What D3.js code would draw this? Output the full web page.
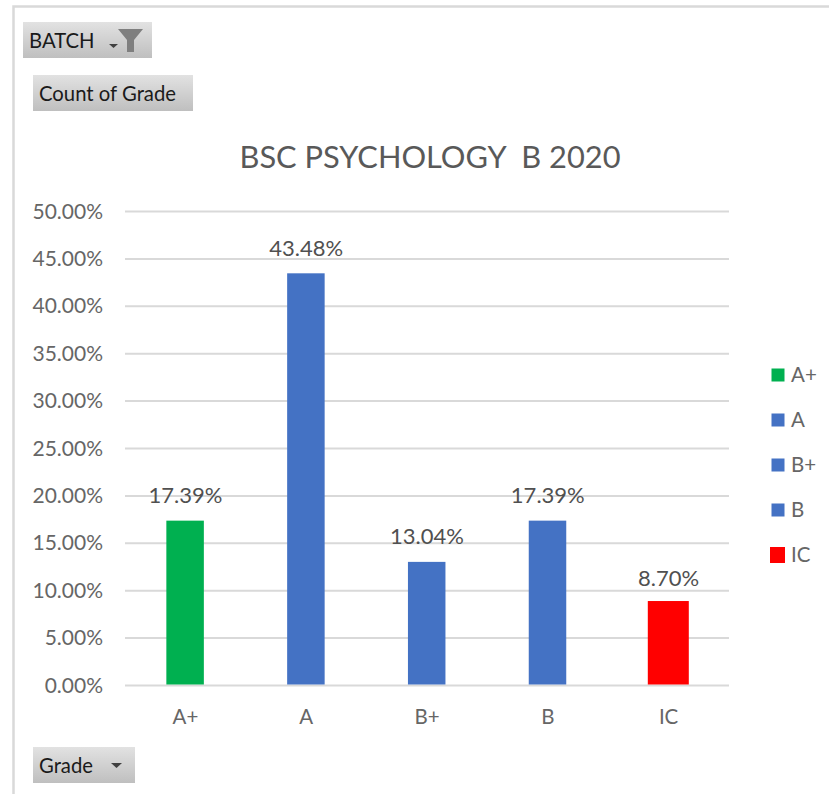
<!DOCTYPE html>
<html><head><meta charset="utf-8">
<script src="https://cdn.jsdelivr.net/npm/d3@7/dist/d3.min.js"></script>
<style>html,body{margin:0;padding:0;background:#fff;overflow:hidden}svg{display:block}text{font-family:Lato,Carlito,"Open Sans",sans-serif}</style>
</head><body><div id="c"></div>
<script>
const categories = ["A+","A","B+","B","IC"];
const values = [17.39,43.48,13.04,17.39,8.70];
const colors = ["#00b050","#4472c4","#4472c4","#4472c4","#ff0000"];
const yTicks = [0,5,10,15,20,25,30,35,40,45,50];
const chartTitle = "BSC PSYCHOLOGY  B 2020";

const svg = d3.select("#c").append("svg").attr("width",829).attr("height",794);
const defs = svg.append("defs");
const g = defs.append("linearGradient").attr("id","btn").attr("x1",0).attr("y1",0).attr("x2",0).attr("y2",1);
g.append("stop").attr("offset","0%").attr("stop-color","#e2e2e2");
g.append("stop").attr("offset","100%").attr("stop-color","#bfbfbf");

// frame
svg.append("path").attr("d","M13.5,794V6.5H829").attr("fill","none").attr("stroke","#d9d9d9").attr("stroke-width",2.5);

const x = d3.scaleBand().domain(categories).range([125,729]);
const y = d3.scaleLinear().domain([0,50]).range([685.5,211.5]);
const cx = d => x(d)+x.bandwidth()/2;

// gridlines
svg.append("g").selectAll("line").data(yTicks).join("line")
 .attr("x1",125).attr("x2",729).attr("y1",d=>y(d)).attr("y2",d=>y(d))
 .attr("stroke","#d9d9d9").attr("stroke-width",2);

// y labels
svg.append("g").selectAll("text").data(yTicks).join("text")
 .attr("x",103).attr("y",d=>y(d)+7).attr("text-anchor","end")
 .attr("font-size",21).attr("fill","#666666").text(d=>d.toFixed(2)+"%");

// bars (the IC bar is drawn slightly larger in the reference)
const barWidth = d => d==="IC" ? 41 : 37.5;
const barGrow = d => d==="IC" ? 2 : 0;
svg.append("g").selectAll("rect").data(categories).join("rect")
 .attr("x",d=>cx(d)-barWidth(d)/2-0.3).attr("width",barWidth)
 .attr("y",(d,i)=>y(values[i])-barGrow(d)).attr("height",(d,i)=>y(0)-1-y(values[i])+barGrow(d))
 .attr("fill",(d,i)=>colors[i]);

// value labels
svg.append("g").selectAll("text").data(categories).join("text")
 .attr("x",cx).attr("y",(d,i)=>y(values[i])-17.5)
 .attr("text-anchor","middle").attr("font-size",22).attr("fill","#505050")
 .text((d,i)=>values[i].toFixed(2)+"%");

// x labels
svg.append("g").selectAll("text").data(categories).join("text")
 .attr("x",cx).attr("y",724)
 .attr("text-anchor","middle").attr("font-size",20.5).attr("fill","#666666").text(d=>d);

// title
svg.append("text").attr("x",430).attr("y",168).attr("text-anchor","middle")
 .attr("font-size",30.8).attr("fill","#595959").attr("xml:space","preserve").style("white-space","pre").text(chartTitle);

// legend
const ly = d3.scalePoint().domain(categories).range([375,555]);
svg.append("g").selectAll("rect").data(categories).join("rect")
 .attr("x",d=>d==="IC"?770:771.5).attr("y",d=>ly(d)-(d==="IC"?8:6.5))
 .attr("width",d=>d==="IC"?15:13).attr("height",d=>d==="IC"?16:13)
 .attr("fill",(d,i)=>colors[i]);
svg.append("g").selectAll("text").data(categories).join("text")
 .attr("x",791).attr("y",d=>ly(d)+7).attr("font-size",20.5).attr("fill","#666666").text(d=>d);

// field buttons
function button(bx,by,w,h,tx,label){
 svg.append("rect").attr("x",bx).attr("y",by).attr("width",w).attr("height",h).attr("fill","url(#btn)");
 svg.append("text").attr("x",tx).attr("y",by+h/2+7.5).attr("font-size",20.3).attr("fill","#1a1a1a").text(label);
}
button(23,22,129,36,29,"BATCH");
button(33,75,160,36,39,"Count of Grade");
button(33,747,102,36,39,"Grade");

// dropdown arrows and funnel
svg.append("path").attr("d","M109,44h9l-4.5,4z").attr("fill","#404040");
svg.append("path").attr("d","M118,29h25l-9,11v12h-7v-12z").attr("fill","#7f7f7f");
svg.append("path").attr("d","M111,763h11l-5.5,5z").attr("fill","#404040");
</script></body></html>
